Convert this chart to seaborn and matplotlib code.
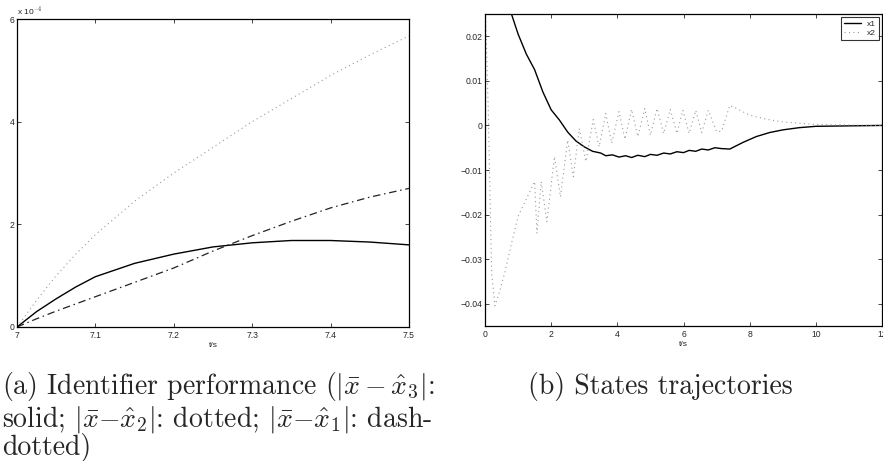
import matplotlib
matplotlib.use("Agg")
import matplotlib.pyplot as plt
import numpy as np
import pandas as pd
import seaborn as sns

# (a) identifier errors, values in units of 1e-4
t_a = [7.00, 7.025, 7.05, 7.075, 7.10, 7.15, 7.20, 7.25, 7.30, 7.35, 7.40, 7.45, 7.50]
err3 = [0, 0.30, 0.55, 0.78, 0.98, 1.24, 1.42, 1.56, 1.64, 1.685, 1.685, 1.655, 1.60]
err2 = [0, 0.52, 1.0, 1.42, 1.8, 2.45, 3.0, 3.5, 4.0, 4.45, 4.9, 5.3, 5.67]
err1 = [0, 0.16, 0.31, 0.45, 0.59, 0.87, 1.15, 1.48, 1.78, 2.06, 2.32, 2.53, 2.70]

# (b) states
t_x1 = [0.0, 0.5, 0.8, 1.0, 1.25, 1.5, 1.75, 2.0, 2.25, 2.5, 2.75, 3.0, 3.25, 3.5,
        3.65, 3.85, 4.05, 4.25, 4.43, 4.62, 4.83, 5.0, 5.2, 5.4, 5.6, 5.8, 6.0,
        6.17, 6.37, 6.55, 6.75, 6.95, 7.15, 7.4, 7.8, 8.2, 8.6, 9.0, 9.5, 10.0,
        11.0, 12.0]
x1 = [0.045, 0.032, 0.025, 0.0205, 0.016, 0.0125, 0.0075, 0.0035, 0.0012, -0.0015,
      -0.0035, -0.0048, -0.0058, -0.0062, -0.0068, -0.0066, -0.0071, -0.0068,
      -0.0072, -0.0067, -0.0070, -0.0065, -0.0067, -0.0062, -0.0064, -0.0059,
      -0.0061, -0.0056, -0.0058, -0.0053, -0.0055, -0.0050, -0.0052, -0.0053,
      -0.0038, -0.0025, -0.0016, -0.0010, -0.0005, -0.0002, -0.0001, 0.0]

t_x2 = [0.0, 0.1, 0.2, 0.3, 0.45, 0.6, 0.8, 1.0, 1.25, 1.5, 1.57, 1.7, 1.87, 2.1,
        2.28, 2.5, 2.67, 2.85, 3.05, 3.27, 3.45, 3.65, 3.83, 4.05, 4.23, 4.43,
        4.62, 4.83, 5.0, 5.2, 5.4, 5.6, 5.8, 5.98, 6.17, 6.37, 6.55, 6.75, 7.0,
        7.15, 7.4, 7.6, 8.0, 8.5, 9.0, 10.0, 11.0, 12.0]
x2 = [0.03, 0.003, -0.033, -0.0405, -0.037, -0.033, -0.0265, -0.0204, -0.0165,
      -0.0126, -0.0242, -0.0126, -0.0216, -0.007, -0.016, -0.0033, -0.0115,
      -0.0007, -0.0081, 0.0013, -0.0048, 0.0027, -0.0040, 0.0031, -0.0031,
      0.0036, -0.0025, 0.0038, -0.0022, 0.0038, -0.0018, 0.0036, -0.0018,
      0.0034, -0.0018, 0.0034, -0.0016, 0.0034, -0.0014, -0.0013, 0.0045,
      0.0038, 0.0023, 0.0014, 0.0008, 0.0002, 0.0001, 0.0]

sns.set_style("ticks")
plt.rcParams["font.family"] = ["Liberation Sans", "DejaVu Sans"]
plt.rcParams["mathtext.fontset"] = "cm"

fig = plt.figure(figsize=(8.83, 4.61), dpi=100)
ax1 = fig.add_axes([17 / 883, 1 - 327 / 461, 392 / 883, 308 / 461])
ax2 = fig.add_axes([485 / 883, 1 - 326 / 461, 397 / 883, 312 / 461])

dot_col = "#9a9a9a"
sns.lineplot(x=t_a, y=err3, ax=ax1, color="black", lw=1.0)
sns.lineplot(x=t_a, y=err2, ax=ax1, color=dot_col, lw=0.8, linestyle=(0, (1, 3)))
sns.lineplot(x=t_a, y=err1, ax=ax1, color="#222222", lw=0.9,
             linestyle=(0, (6, 3, 1.2, 3)))
ax1.set_xlim(7, 7.5)
ax1.set_ylim(0, 6)
ax1.set_xticks([7, 7.1, 7.2, 7.3, 7.4, 7.5])
ax1.set_xticklabels(["7", "7.1", "7.2", "7.3", "7.4", "7.5"])
ax1.set_yticks([0, 2, 4, 6])
ax1.set_xlabel("t/s", fontsize=6, labelpad=1)
ax1.text(0.0, 1.005, r"x 10$^{-4}$", transform=ax1.transAxes, fontsize=6,
         ha="left", va="bottom")

sns.lineplot(x=t_x1, y=x1, ax=ax2, color="black", lw=1.0, label="x1")
sns.lineplot(x=t_x2, y=x2, ax=ax2, color=dot_col, lw=0.8,
             linestyle=(0, (1, 3)), label="x2")
ax2.set_xlim(0, 12)
ax2.set_ylim(-0.045, 0.025)
ax2.set_xticks([0, 2, 4, 6, 8, 10, 12])
ax2.set_yticks([-0.04, -0.03, -0.02, -0.01, 0, 0.01, 0.02])
ax2.set_yticklabels(["\u22120.04", "\u22120.03", "\u22120.02", "\u22120.01", "0",
                     "0.01", "0.02"])
ax2.set_xlabel("t/s", fontsize=6, labelpad=1)
leg = ax2.legend(loc="upper right", fontsize=6, frameon=True, fancybox=False,
                 handlelength=2.0, borderaxespad=0.4, borderpad=0.3,
                 labelspacing=0.2, handletextpad=0.8)
leg.get_frame().set_edgecolor("black")
leg.get_frame().set_linewidth(0.8)

for ax in (ax1, ax2):
    for s in ax.spines.values():
        s.set_visible(True)
        s.set_linewidth(0.9)
        s.set_color("black")
    ax.tick_params(direction="in", length=3, width=0.6, top=True, right=True,
                   labelsize=6.2, pad=3)
    ax.tick_params(axis="y", pad=2)

cap = {"family": "cmr10", "size": 20}
fig.text(0.002, 1 - 394 / 461,
         r"(a) Identifier performance ($|\bar{x}-\hat{x}_3|$:", fontdict=cap)
fig.text(0.002, 1 - 426 / 461,
         r"solid; $|\bar{x}{-}\hat{x}_2|$: dotted; $|\bar{x}{-}\hat{x}_1|$: dash-",
         fontdict=cap)
fig.text(0.002, 1 - 455 / 461, "dotted)", fontdict=cap)
fig.text(660 / 883, 1 - 394 / 461, "(b) States trajectories", fontdict=cap,
         ha="center")

fig.savefig("out.png", dpi=100)
